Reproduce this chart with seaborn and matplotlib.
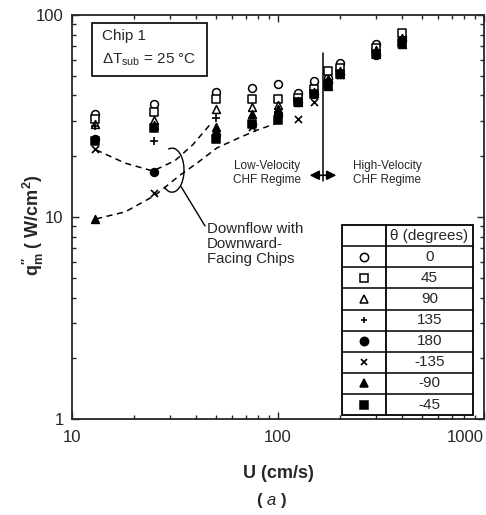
import numpy as np
import pandas as pd
import matplotlib
matplotlib.use('Agg')
import matplotlib.pyplot as plt
import seaborn as sns
from matplotlib.patches import Rectangle, Arc

# velocity groups (cm/s)
U = [13, 25, 50, 75, 100, 125, 150, 175, 200, 300, 400]

# CHF values per orientation (W/cm^2)
q_0 = [32.5, 36.1, 41.8, 43.3, 45.3, 40.9, 47.0, 49.0, 57.9, 72.0, 78.0]
q_45 = [30.5, 33.1, 38.5, 38.5, 38.5, 39.0, 42.8, 53.0, 54.6, 69.0, 81.0]
q_90 = [28.9, 30.2, 34.3, 35.1, 35.9, 37.6, 41.8, 48.0, 52.7, 67.0, 77.0]
q_135 = [28.2, 23.7, 30.9, 28.8, 33.1, 36.8, 41.0, 47.0, 51.5, 66.0, 76.0]
q_180 = [24.2, 16.7, 25.4, 28.8, 32.0, 37.2, 40.5, 46.5, 50.9, 63.0, 75.0]
q_m135 = [21.6, 13.1, 24.2, 27.8, 30.1, 30.5, 37.2, 46.0, 50.5, 65.0, 74.0]
q_m90 = [9.8, 28.5, 27.8, 32.4, 34.3, 37.2, 41.0, 44.3, 50.9, 64.0, 72.0]
q_m45 = [23.8, 27.5, 24.2, 29.0, 30.1, 37.2, 40.8, 45.0, 51.0, 64.0, 73.0]

theta_labels = ['0', '45', '90', '135', '180', '-135', '-90', '-45']
series = [q_0, q_45, q_90, q_135, q_180, q_m135, q_m90, q_m45]
markers = ['o', 's', '^', '+', 'o', 'x', '^', 's']
filled = [False, False, False, None, True, None, True, True]

# dashed "downflow" curves
upper_U = [13.1, 18.1, 24.7, 31.6, 38.6, 47.9]
upper_q = [21.5, 18.5, 16.9, 19.0, 22.8, 29.5]
lower_U = [13.1, 18.1, 25.3, 33.4, 40.5, 50.6, 65.5, 79, 102]
lower_q = [9.8, 10.6, 12.8, 16.1, 18.5, 22.0, 24.8, 26.9, 29.5]

# regime divider
regime_U = 165
regime_q = (15.0, 65.0)
arrow_U = (138, 198)
arrow_q = 16.1

sns.set_style('ticks')
plt.rcParams['font.family'] = ['Liberation Sans', 'DejaVu Sans']
plt.rcParams['mathtext.fontset'] = 'custom'
plt.rcParams['mathtext.rm'] = 'Liberation Sans'
plt.rcParams['mathtext.it'] = 'Liberation Sans:italic'
plt.rcParams['mathtext.bf'] = 'Liberation Sans:bold'

fig = plt.figure(figsize=(4.86, 5.15), dpi=100)
ax = fig.add_axes([0.148, 0.186, 0.848, 0.785])

for q, m, f in zip(series, markers, filled):
    if f is None:
        sns.scatterplot(x=U, y=q, marker=m, color='black', s=26, linewidth=1.2, ax=ax, zorder=3)
    else:
        sns.scatterplot(x=U, y=q, marker=m, facecolor='black' if f else 'white',
                        edgecolor='black', s=32, linewidth=1.1, ax=ax, zorder=3)

ax.plot(upper_U, upper_q, color='black', ls=(0, (4, 3)), lw=1.1)
ax.plot(lower_U, lower_q, color='black', ls=(0, (4, 3)), lw=1.1)

ax.set_xscale('log')
ax.set_yscale('log')
ax.set_xlim(10, 1000)
ax.set_ylim(1, 100)
ax.set_xticks([10, 100, 1000])
ax.set_xticklabels(['10', '100', '1000'])
ax.set_yticks([1, 10, 100])
ax.set_yticklabels(['1', '10', '100'])
ax.xaxis.get_majorticklabels()[-1].set_horizontalalignment('right')
ax.tick_params(which='both', direction='in', top=True, right=True, labelsize=12, width=1)
ax.tick_params(which='major', length=5)
ax.tick_params(which='minor', length=3)
ax.tick_params(axis='x', pad=8)
ax.tick_params(axis='y', pad=6)
for sp in ax.spines.values():
    sp.set_linewidth(1.3)

ax.set_xlabel('U (cm/s)', fontsize=13, fontweight='bold', labelpad=14)
ax.set_ylabel('q$^{\\mathbf{\u2033}}_{\\mathbf{m}}$ ( W/cm$^\\mathbf{2}$)', fontsize=13, fontweight='bold')
ax.yaxis.set_label_coords(-0.062, 0.48)
fig.text(0.558, 0.028, r'( $\mathbf{\mathit{a}}$ )', ha='center', va='center', fontsize=12, fontweight='bold')

# chip box
ax.add_patch(Rectangle((0.0485, 0.849), 0.28, 0.131, transform=ax.transAxes,
                       fill=False, ec='black', lw=1.2))
ax.text(0.073, 0.948, 'Chip 1', transform=ax.transAxes, va='center', fontsize=11)
ax.text(0.073, 0.889, r'$\Delta$T$_{\rm sub}$ = 25 °C', transform=ax.transAxes, va='center', fontsize=11)

# regime divider and arrow
ax.plot([regime_U, regime_U], regime_q, color='black', lw=1.1)
ax.annotate('', xy=(arrow_U[1], arrow_q), xytext=(arrow_U[0], arrow_q),
            arrowprops=dict(arrowstyle='<|-|>', color='black', lw=1.2, mutation_scale=14))
ax.text(88.5, 16.5, 'Low-Velocity\nCHF Regime', ha='center', va='center', fontsize=8.5, linespacing=1.3)
ax.text(338, 16.5, 'High-Velocity\nCHF Regime', ha='center', va='center', fontsize=8.5, linespacing=1.3)

# bracket and label for downflow curves
ax.add_patch(Arc((0.243, 0.616), 0.058, 0.109, theta1=-115, theta2=100,
                 transform=ax.transAxes, color='black', lw=1))
ax.plot([0.265, 0.323], [0.575, 0.478], transform=ax.transAxes, color='black', lw=1)
ax.text(0.328, 0.488, 'Downflow with\nDownward-\nFacing Chips', transform=ax.transAxes,
        va='top', ha='left', fontsize=10.8, linespacing=1.1)

# theta legend table
x0, xd, x1 = 0.655, 0.762, 0.973
ytop, ybot = 0.480, 0.010
nrows = len(theta_labels) + 1
rh = (ytop - ybot) / nrows
ax.add_patch(Rectangle((x0, ybot), x1 - x0, ytop - ybot, transform=ax.transAxes,
                       fc='white', ec='black', lw=1.3, zorder=4))
ax.plot([xd, xd], [ybot, ytop], transform=ax.transAxes, color='black', lw=1.3, zorder=5)
for i in range(1, nrows):
    yy = ytop - i * rh
    ax.plot([x0, x1], [yy, yy], transform=ax.transAxes, color='black', lw=1.1, zorder=5)
ax.text((xd + x1) / 2, ytop - rh / 2, 'θ (degrees)', transform=ax.transAxes,
        ha='center', va='center', fontsize=11, zorder=6)
for i, (lab, m, f) in enumerate(zip(theta_labels, markers, filled)):
    yc = ytop - (i + 1.5) * rh
    ax.text((xd + x1) / 2, yc, lab, transform=ax.transAxes, ha='center', va='center',
            fontsize=11, zorder=6)
    if f is None:
        ax.plot((x0 + xd) / 2, yc, marker=m, color='black', ms=5, mew=1.2,
                transform=ax.transAxes, zorder=6, clip_on=False)
    else:
        ax.plot((x0 + xd) / 2, yc, marker=m, mfc='black' if f else 'white', mec='black',
                ms=6, mew=1.1, transform=ax.transAxes, zorder=6, clip_on=False)

fig.savefig('out.png', dpi=100)
